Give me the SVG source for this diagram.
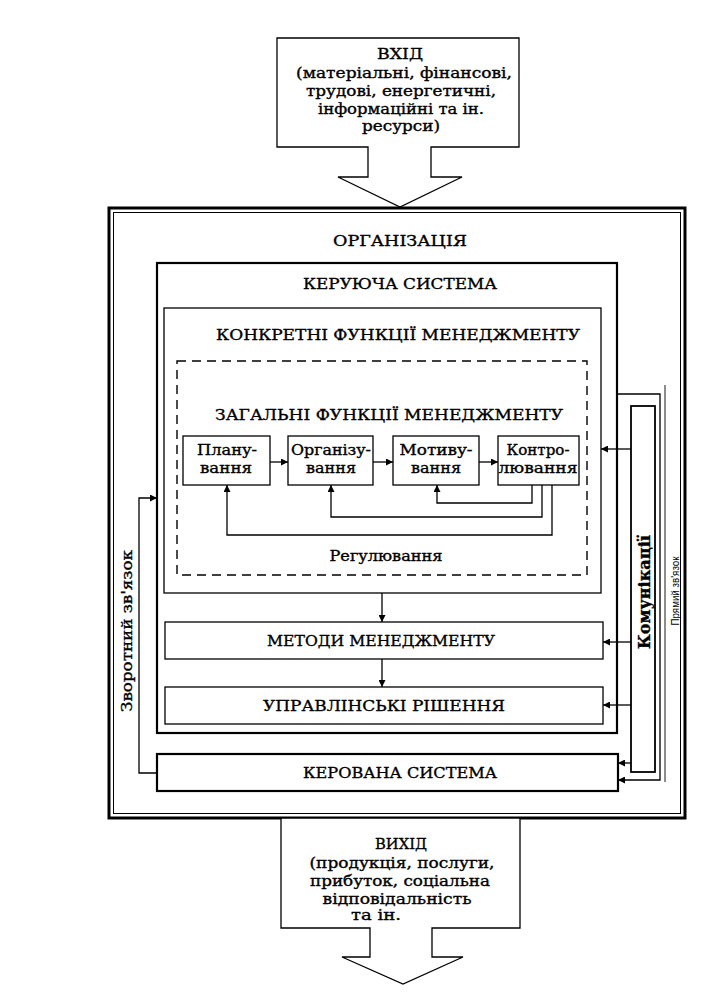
<svg xmlns="http://www.w3.org/2000/svg" width="710" height="997" viewBox="0 0 710 997">
<style>
.t{font-family:"DejaVu Serif","Liberation Serif",serif;fill:#000;stroke:#000;stroke-width:0.35;text-anchor:middle}
.h{font-size:15.5px}
.b{font-size:14.5px}
.s{font-family:"Liberation Sans",Arial,sans-serif;font-size:10.5px;fill:#000;text-anchor:middle}
.box{fill:#fff;stroke:#000;stroke-width:1.3}
.thick{fill:none;stroke:#000;stroke-width:2.2}
.c{fill:none;stroke:#000;stroke-width:1.3}
.thin{fill:none;stroke:#000;stroke-width:0.9}
</style>
<defs>
<marker id="ah" viewBox="0 0 10 10" refX="10" refY="5" markerWidth="9" markerHeight="7" markerUnits="userSpaceOnUse" orient="auto">
<path d="M0,0 L10,5 L0,10 z" fill="#000"/>
</marker>
</defs>
<rect width="710" height="997" fill="#fff"/>

<g id="input">
<path class="box" stroke-width="2" d="M277,38 H519 V147 H431 V177 H462 L400,207 L338,177 H368 V147 H277 Z"/>
<text class="t h" x="400" y="59" textLength="46" lengthAdjust="spacingAndGlyphs">ВХІД</text>
<text class="t b" x="404" y="78" textLength="216" lengthAdjust="spacingAndGlyphs">(матеріальні, фінансові,</text>
<text class="t b" x="401" y="96" textLength="190" lengthAdjust="spacingAndGlyphs">трудові, енергетичні,</text>
<text class="t b" x="401" y="114" textLength="166" lengthAdjust="spacingAndGlyphs">інформаційні та ін.</text>
<text class="t b" x="401" y="131" textLength="78" lengthAdjust="spacingAndGlyphs">ресурси)</text>
</g>

<g id="organization">
<rect x="109" y="208" width="576" height="610" fill="none" stroke="#000" stroke-width="3"/>
<rect x="113.5" y="212.5" width="567" height="601" fill="none" stroke="#000" stroke-width="1"/>
<text class="t h" x="400" y="246" textLength="134" lengthAdjust="spacingAndGlyphs">ОРГАНІЗАЦІЯ</text>
</g>

<g id="control-system">
<rect x="157" y="263" width="460" height="470" class="thick"/>
<text class="t h" x="400" y="289" textLength="194" lengthAdjust="spacingAndGlyphs">КЕРУЮЧА СИСТЕМА</text>
</g>

<g id="specific-functions">
<rect x="164" y="308" width="437" height="285" class="box"/>
<text class="t h" x="398" y="340" textLength="364" lengthAdjust="spacingAndGlyphs">КОНКРЕТНІ ФУНКЦІЇ МЕНЕДЖМЕНТУ</text>
</g>

<g id="general-functions">
<rect x="177" y="361" width="410" height="214" fill="none" stroke="#000" stroke-width="1.4" stroke-dasharray="9 6"/>
<text class="t h" x="389" y="420" textLength="348" lengthAdjust="spacingAndGlyphs">ЗАГАЛЬНІ ФУНКЦІЇ МЕНЕДЖМЕНТУ</text>
<text class="t b" x="386" y="561" textLength="113" lengthAdjust="spacingAndGlyphs">Регулювання</text>
</g>

<g id="planning">
<rect x="183" y="436" width="87" height="49" class="box"/>
<text class="t b" x="227" y="455" textLength="60" lengthAdjust="spacingAndGlyphs">Плану-</text>
<text class="t b" x="226" y="473" textLength="52" lengthAdjust="spacingAndGlyphs">вання</text>
</g>

<g id="organizing">
<rect x="288" y="436" width="85" height="49" class="box"/>
<text class="t b" x="331" y="455" textLength="80" lengthAdjust="spacingAndGlyphs">Організу-</text>
<text class="t b" x="331" y="473" textLength="50" lengthAdjust="spacingAndGlyphs">вання</text>
</g>

<g id="motivating">
<rect x="393" y="436" width="86" height="49" class="box"/>
<text class="t b" x="436" y="455" textLength="73" lengthAdjust="spacingAndGlyphs">Мотиву-</text>
<text class="t b" x="436" y="473" textLength="50" lengthAdjust="spacingAndGlyphs">вання</text>
</g>

<g id="controlling">
<rect x="498" y="436" width="81" height="49" class="box"/>
<text class="t b" x="538" y="455" textLength="63" lengthAdjust="spacingAndGlyphs">Контро-</text>
<text class="t b" x="538" y="473" textLength="79" lengthAdjust="spacingAndGlyphs">лювання</text>
</g>

<g id="methods">
<rect x="165" y="622" width="438" height="37" class="box"/>
<text class="t h" x="381" y="646" textLength="228" lengthAdjust="spacingAndGlyphs">МЕТОДИ МЕНЕДЖМЕНТУ</text>
</g>

<g id="decisions">
<rect x="165" y="687" width="438" height="37" class="box"/>
<text class="t h" x="384" y="711" textLength="242" lengthAdjust="spacingAndGlyphs">УПРАВЛІНСЬКІ РІШЕННЯ</text>
</g>

<g id="managed-system">
<rect x="157" y="754" width="461" height="37" class="thick"/>
<text class="t h" x="400" y="778" textLength="194" lengthAdjust="spacingAndGlyphs">КЕРОВАНА СИСТЕМА</text>
</g>

<g id="communications">
<rect x="631" y="406" width="24" height="366" fill="#fff" stroke="#000" stroke-width="1.8"/>
<text class="t" font-size="17" font-weight="bold" transform="translate(650,592) rotate(-90)" textLength="114" lengthAdjust="spacingAndGlyphs">Комунікації</text>
</g>

<g id="output">
<path class="box" stroke-width="2" d="M281,818 H520 V928 H432 V957 H463 L403,984 L342,957 H370 V928 H281 Z"/>
<text class="t h" x="401" y="849" textLength="52" lengthAdjust="spacingAndGlyphs">ВИХІД</text>
<text class="t b" x="402" y="868" textLength="185" lengthAdjust="spacingAndGlyphs">(продукція, послуги,</text>
<text class="t b" x="400" y="886" textLength="180" lengthAdjust="spacingAndGlyphs">прибуток, соціальна</text>
<text class="t b" x="397" y="904" textLength="149" lengthAdjust="spacingAndGlyphs">відповідальність</text>
<text class="t b" x="376" y="920" textLength="50" lengthAdjust="spacingAndGlyphs">та ін.</text>
</g>

<g id="connectors">
<path class="c" marker-end="url(#ah)" d="M270,462 H288"/>
<path class="c" marker-end="url(#ah)" d="M373,462 H393"/>
<path class="c" marker-end="url(#ah)" d="M479,462 H498"/>
<path class="c" marker-end="url(#ah)" d="M532,485 V503 H437 V485"/>
<path class="c" marker-end="url(#ah)" d="M542,485 V517 H331 V485"/>
<path class="c" marker-end="url(#ah)" d="M552,485 V535 H227 V485"/>
<path class="c" marker-end="url(#ah)" d="M382,593 V622"/>
<path class="c" marker-end="url(#ah)" d="M382,659 V687"/>
<path class="c" marker-end="url(#ah)" d="M631,449 H601"/>
<path class="c" marker-end="url(#ah)" d="M631,642 H603"/>
<path class="c" marker-end="url(#ah)" d="M631,705 H603"/>
<path class="c" marker-end="url(#ah)" d="M631,763 H618"/>
<path class="c" marker-end="url(#ah)" d="M617,394 H660 V780 H618"/>
<path class="thin" d="M665,385 V782"/>
<path class="c" marker-end="url(#ah)" d="M157,773 H139 V498 H157"/>
<text class="t" font-size="15" transform="translate(132,631) rotate(-90)" textLength="162" lengthAdjust="spacingAndGlyphs">Зворотний зв'язок</text>
<text class="s" transform="translate(679,591) rotate(-90)" textLength="69" lengthAdjust="spacingAndGlyphs">Прямий зв'язок</text>
</g>
</svg>
